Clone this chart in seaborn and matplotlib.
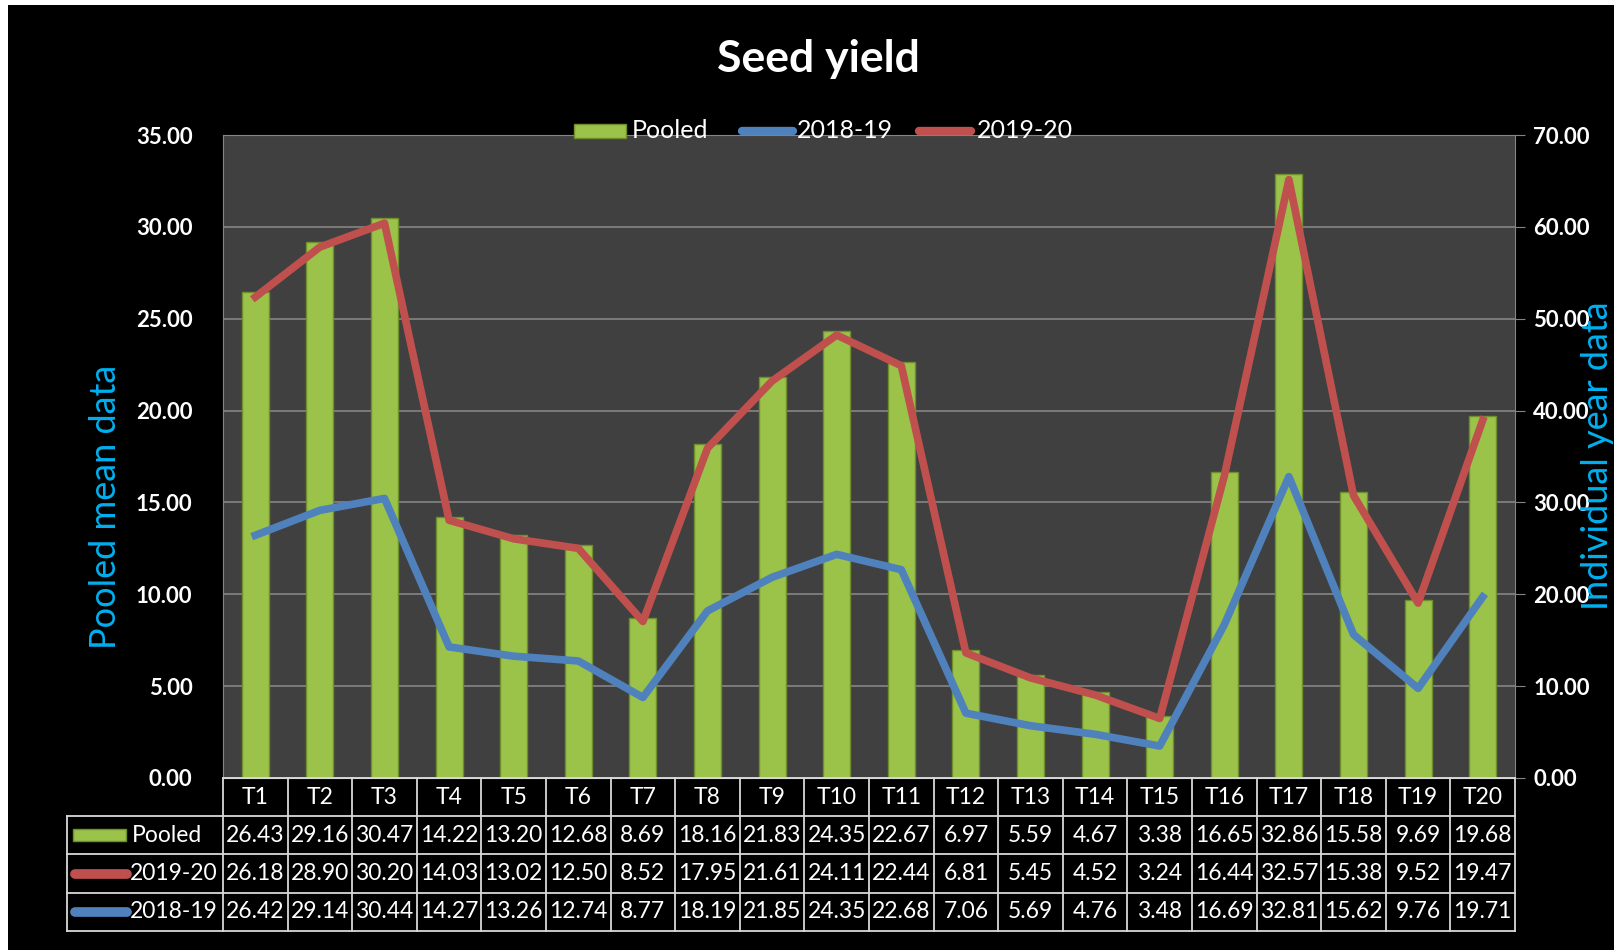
import matplotlib
matplotlib.use("Agg")
import matplotlib.pyplot as plt
from matplotlib.patches import Rectangle
from matplotlib.lines import Line2D
import seaborn as sns
import numpy as np
import pandas as pd

categories = ["T%d" % i for i in range(1, 21)]
pooled = [26.43, 29.16, 30.47, 14.22, 13.20, 12.68, 8.69, 18.16, 21.83, 24.35,
          22.67, 6.97, 5.59, 4.67, 3.38, 16.65, 32.86, 15.58, 9.69, 19.68]
y2019_20 = [26.18, 28.90, 30.20, 14.03, 13.02, 12.50, 8.52, 17.95, 21.61, 24.11,
            22.44, 6.81, 5.45, 4.52, 3.24, 16.44, 32.57, 15.38, 9.52, 19.47]
y2018_19 = [26.42, 29.14, 30.44, 14.27, 13.26, 12.74, 8.77, 18.19, 21.85, 24.35,
            22.68, 7.06, 5.69, 4.76, 3.48, 16.69, 32.81, 15.62, 9.76, 19.71]
left_ticks = [0, 5, 10, 15, 20, 25, 30, 35]
right_ticks = [0, 10, 20, 30, 40, 50, 60, 70]

GREEN = "#9BC34A"
GREEN_EDGE = "#6F8F2C"
RED = "#C0504D"
BLUE = "#4F81BD"
CYAN = "#00B0F0"
FONT = ["Lato", "DejaVu Sans"]

plt.rcParams["font.family"] = FONT

W, H = 1614, 950
fig = plt.figure(figsize=(W / 100, H / 100), dpi=100, facecolor="white")

def fx(x):
    return x / W

def fy(y):
    return 1 - y / H

# black background with thin white margin
fig.patches.append(Rectangle((fx(8), 0), 1 - fx(8), fy(5), transform=fig.transFigure,
                             facecolor="black", edgecolor="none", zorder=-10))

PL, PR, PT, PB = 223, 1515, 135, 778
ax = fig.add_axes([fx(PL), fy(PB), fx(PR) - fx(PL), fy(PT) - fy(PB)])
ax.set_facecolor("#404040")

df = pd.DataFrame({"cat": categories, "pooled": pooled,
                   "y1920": y2019_20, "y1819": y2018_19})

sns.barplot(data=df, x="cat", y="pooled", ax=ax, color=GREEN, width=0.42,
            edgecolor=GREEN_EDGE, linewidth=1, saturation=1, zorder=2)
sns.pointplot(data=df, x="cat", y="y1920", ax=ax, color=RED, marker="",
              linewidth=5.5, errorbar=None, zorder=3)

ax.set_ylim(0, 35)
ax.set_xlim(-0.5, 19.5)
ax.set_yticks(left_ticks)
ax.set_yticklabels(["%.2f" % v for v in left_ticks], color="white",
                   fontsize=16, fontweight="bold")
ax.tick_params(axis="y", length=0, pad=22)
ax.tick_params(axis="x", length=0, labelbottom=False)
ax.set_xlabel("")
ax.set_ylabel("")
ax.grid(axis="y", color="#858585", linewidth=1.2, zorder=0)
ax.set_axisbelow(True)
for s in ["top", "left", "right"]:
    ax.spines[s].set_color("#858585")
ax.spines["bottom"].set_color("#d9d9d9")

ax2 = ax.twinx()
sns.pointplot(data=df, x="cat", y="y1819", ax=ax2, color=BLUE, marker="",
              linewidth=5.5, errorbar=None, zorder=3)
ax2.set_ylim(0, 70)
ax2.set_xlim(-0.5, 19.5)
ax2.set_yticks(right_ticks)
ax2.set_yticklabels(["%.2f" % v for v in right_ticks], color="white",
                    fontsize=16, fontweight="bold")
ax2.tick_params(axis="y", length=7, color="#858585", pad=6)
ax2.tick_params(axis="x", length=0, labelbottom=False)
ax2.set_xlabel("")
ax2.set_ylabel("")
for s in ["top", "left", "right", "bottom"]:
    ax2.spines[s].set_visible(False)
ax.spines["right"].set_visible(True)

# Titles and axis labels
fig.text(fx(818), fy(59), "Seed yield", color="white", fontsize=32,
         fontweight="bold", ha="center", va="center")
fig.text(fx(106), fy(507), "Pooled mean data", color=CYAN, fontsize=26,
         rotation=90, ha="center", va="center")
fig.text(fx(1598), fy(456), "Individual year data", color=CYAN, fontsize=26,
         rotation=90, ha="center", va="center")

# Top legend
ly = 131
fig.patches.append(Rectangle((fx(574), fy(ly + 7)), fx(52), fy(0) - fy(14),
                             transform=fig.transFigure, facecolor=GREEN,
                             edgecolor=GREEN_EDGE, linewidth=1, zorder=5))
fig.text(fx(632), fy(ly), "Pooled", color="white", fontsize=18, va="center", ha="left")
fig.lines.append(Line2D([fx(742), fx(793)], [fy(ly), fy(ly)], transform=fig.transFigure,
                        color=BLUE, linewidth=6, solid_capstyle="round", zorder=5))
fig.text(fx(797), fy(ly), "2018-19", color="white", fontsize=18, va="center", ha="left")
fig.lines.append(Line2D([fx(919), fx(971)], [fy(ly), fy(ly)], transform=fig.transFigure,
                        color=RED, linewidth=6, solid_capstyle="round", zorder=5))
fig.text(fx(977), fy(ly), "2019-20", color="white", fontsize=18, va="center", ha="left")

# Data table
TL = 67
rows_y = [778, 816, 854, 893, 931]
colw = (PR - PL) / 20
LC = "#d9d9d9"
TFS = 16.5

def hline(x0, x1, y):
    fig.lines.append(Line2D([fx(x0), fx(x1)], [fy(y), fy(y)], transform=fig.transFigure,
                            color=LC, linewidth=1.3))

def vline(x, y0, y1):
    fig.lines.append(Line2D([fx(x), fx(x)], [fy(y0), fy(y1)], transform=fig.transFigure,
                            color=LC, linewidth=1.3))

hline(PL, PR, rows_y[0])
for yv in rows_y[1:]:
    hline(TL, PR, yv)
for i in range(21):
    vline(PL + i * colw, rows_y[0], rows_y[-1])
vline(TL, rows_y[1], rows_y[-1])

for i, c in enumerate(categories):
    cx = PL + (i + 0.5) * colw
    fig.text(fx(cx), fy((rows_y[0] + rows_y[1]) / 2), c, color="white", fontsize=TFS,
             ha="center", va="center")

table_rows = [("Pooled", pooled), ("2019-20", y2019_20), ("2018-19", y2018_19)]
for r, (name, vals) in enumerate(table_rows):
    cy = (rows_y[r + 1] + rows_y[r + 2]) / 2
    for i, v in enumerate(vals):
        cx = PL + (i + 0.5) * colw
        fig.text(fx(cx), fy(cy), "%.2f" % v, color="white", fontsize=TFS,
                 ha="center", va="center")
    if name == "Pooled":
        fig.patches.append(Rectangle((fx(73), fy(cy + 6)), fx(53), fy(0) - fy(12),
                                     transform=fig.transFigure, facecolor=GREEN,
                                     edgecolor=GREEN_EDGE, linewidth=1))
        fig.text(fx(132), fy(cy), name, color="white", fontsize=TFS, ha="left", va="center")
    else:
        col = RED if name == "2019-20" else BLUE
        fig.lines.append(Line2D([fx(75), fx(127)], [fy(cy), fy(cy)],
                                transform=fig.transFigure, color=col, linewidth=7,
                                solid_capstyle="round"))
        fig.text(fx(130), fy(cy), name, color="white", fontsize=TFS, ha="left", va="center")

fig.savefig("out.png", dpi=100, facecolor=fig.get_facecolor())
